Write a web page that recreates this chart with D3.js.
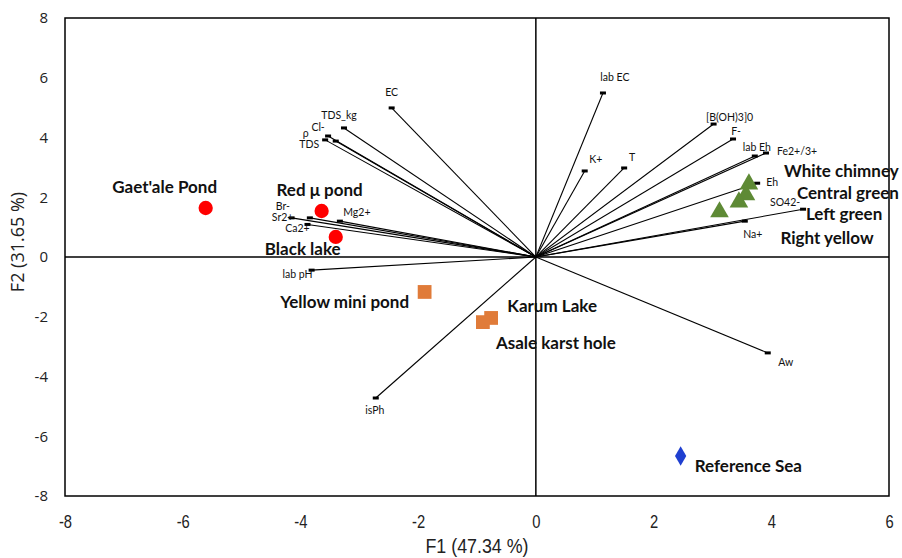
<!DOCTYPE html>
<html><head><meta charset="utf-8">
<script src="https://cdn.jsdelivr.net/npm/d3@7"></script>
<style>
html,body{margin:0;padding:0;background:#fff;}
svg{display:block;}
</style></head>
<body>
<svg id="chart" width="902" height="558"></svg>
<script>
// ---- data ----
const xTicks = [-8, -6, -4, -2, 0, 2, 4, 6];
const yTicks = [-8, -6, -4, -2, 0, 2, 4, 6, 8];
const xTitle = "F1 (47.34 %)";
const yTitle = "F2 (31.65 %)";

const varNames = ["EC","TDS_kg","Cl-","ρ","TDS","Br-","Sr2+","Mg2+","Ca2+","lab pH","isPh","Aw",
                  "lab EC","K+","T","[B(OH)3]0","F-","lab Eh","Fe2+/3+","Eh","SO42-","Na+"];
const varF1 = [-2.45,-3.26,-3.53,-3.40,-3.58,-3.84,-4.15,-3.33,-3.88,-3.81,-2.72,3.94,
               1.14,0.83,1.50,3.02,3.35,3.72,3.91,3.76,4.54,3.55];
const varF2 = [4.99,4.32,4.05,3.88,3.92,1.31,1.31,1.20,1.09,-0.44,-4.72,-3.21,
               5.49,2.88,2.98,4.45,3.95,3.38,3.48,2.47,1.60,1.20];

const obsNames = ["Gaet'ale Pond","Red μ pond","Black lake","Yellow mini pond","Karum Lake",
                  "Asale karst hole","Reference Sea","White chimney","Central green","Left green","Right yellow"];
const obsF1 = [-5.61,-3.64,-3.40,-1.89,-0.76,-0.90,2.46,3.62,3.57,3.45,3.12];
const obsF2 = [1.64,1.54,0.67,-1.17,-2.04,-2.18,-6.66,2.44,2.08,1.84,1.51];
const obsGroup = ["red","red","red","orange","orange","orange","blue","green","green","green","green"];

// ---- layout / style (not data) ----
const varLabelOffset = {
  "EC":[0,-16,"middle"],"TDS_kg":[-5,-13,"middle"],"Cl-":[-10,-9,"middle"],"ρ":[-30,-8,"middle"],
  "TDS":[-16,4,"middle"],"Br-":[-27,-12,"middle"],"Sr2+":[-9,-1,"middle"],"Mg2+":[17,-9,"middle"],
  "Ca2+":[-10,4,"middle"],"lab pH":[-14,4,"middle"],"isPh":[-1,12,"middle"],"Aw":[18,9,"middle"],
  "lab EC":[12,-16,"middle"],"K+":[11,-12,"middle"],"T":[8,-11,"middle"],"[B(OH)3]0":[16,-7,"middle"],
  "F-":[3,-8,"middle"],"lab Eh":[2,-9,"middle"],"Fe2+/3+":[11,-2,"start"],"Eh":[15,-1,"middle"],
  "SO42-":[-18,-7,"middle"],"Na+":[8,13,"middle"]
};
const obsLabelOffset = {
  "Gaet'ale Pond":[-41,-21,"middle"],"Red μ pond":[-2,-21,"middle"],"Black lake":[-33,12,"middle"],
  "Yellow mini pond":[-80,10,"middle"],"Karum Lake":[61,-12,"middle"],"Asale karst hole":[73,21,"middle"],
  "Reference Sea":[14,10,"start"],"White chimney":[35,-13,"start"],"Central green":[51,-2,"start"],
  "Left green":[67,12,"start"],"Right yellow":[61,26,"start"]
};
const colors = {red:"#FF0000", orange:"#E07B39", blue:"#1F3FD0", green:"#5E8A35"};

const svg = d3.select("#chart");
const x = d3.scaleLinear().domain([-8, 6]).range([65, 889]);
const y = d3.scaleLinear().domain([-8, 8]).range([496, 18]);

const smallFont = "Lato, 'Open Sans', sans-serif";
const narrowFont = "'Liberation Sans', Arial, sans-serif";

// axes
const xAxis = svg.append("g").attr("transform", "translate(0,496)")
  .call(d3.axisBottom(x).tickValues(xTicks).tickSize(0).tickPadding(19).tickFormat(d => String(d)));
xAxis.select(".domain").remove();
xAxis.selectAll("text").attr("font-family", narrowFont)
  .attr("font-size", 18).attr("fill","#222").attr("transform","scale(0.82,1)");

const yAxis = svg.append("g").attr("transform", "translate(65,0)")
  .call(d3.axisLeft(y).tickValues(yTicks).tickSize(0).tickPadding(17).tickFormat(d => String(d)));
yAxis.select(".domain").remove();
yAxis.selectAll("text").attr("font-family","'Open Sans', sans-serif").attr("font-size", 15).attr("fill","#222");

// frame
svg.append("rect").attr("x", x(-8)).attr("y", y(8)).attr("width", x(6)-x(-8)).attr("height", y(-8)-y(8))
  .attr("fill","none").attr("stroke","#000").attr("stroke-width",1.5);
// zero lines
svg.append("line").attr("x1", x(-8)).attr("x2", x(6)).attr("y1", y(0)).attr("y2", y(0)).attr("stroke","#000").attr("stroke-width",1.5);
svg.append("line").attr("x1", x(0)).attr("x2", x(0)).attr("y1", y(8)).attr("y2", y(-8)).attr("stroke","#000").attr("stroke-width",1.5);

// titles
svg.append("g").attr("transform","translate(477,553) scale(0.85,1)")
  .append("text").attr("text-anchor","middle")
  .attr("font-family", narrowFont)
  .attr("font-size",21).attr("fill","#222").text(xTitle);
svg.append("text").attr("transform","translate(24,242) rotate(-90)").attr("text-anchor","middle")
  .attr("font-family","'Open Sans', sans-serif").attr("font-size",18).attr("fill","#222").text(yTitle);

// variable vectors
const vars = varNames.map((n,i)=>({name:n, f1:varF1[i], f2:varF2[i]}));
const vg = svg.append("g");
vg.selectAll("line.v").data(vars).join("line").attr("class","v")
  .attr("x1", x(0)).attr("y1", y(0)).attr("x2", d=>x(d.f1)).attr("y2", d=>y(d.f2))
  .attr("stroke","#000").attr("stroke-width",1.1);
vg.selectAll("rect.m").data(vars).join("rect").attr("class","m")
  .attr("x", d=>x(d.f1)-3).attr("y", d=>y(d.f2)-1.5).attr("width",6).attr("height",3).attr("fill","#000");
vg.selectAll("text.vl").data(vars).join("text").attr("class","vl")
  .attr("x", d=>x(d.f1)+varLabelOffset[d.name][0]).attr("y", d=>y(d.f2)+varLabelOffset[d.name][1])
  .attr("dy","0.35em").attr("text-anchor", d=>varLabelOffset[d.name][2])
  .attr("font-family", smallFont).attr("font-size", 10.5).attr("fill","#111").text(d=>d.name);

// observations
const obs = obsNames.map((n,i)=>({name:n, f1:obsF1[i], f2:obsF2[i], g:obsGroup[i]}));
const og = svg.append("g");
const shape = {red:d3.symbolCircle, orange:d3.symbolSquare, blue:d3.symbolDiamond, green:d3.symbolTriangle};
const size = {red:160, orange:190, blue:110, green:150};
og.selectAll("path").data(obs).join("path")
  .attr("transform", d=>`translate(${x(d.f1)},${y(d.f2)})`)
  .attr("d", d=>d3.symbol().type(shape[d.g]).size(size[d.g])())
  .attr("fill", d=>colors[d.g]);
og.selectAll("text").data(obs).join("text")
  .attr("x", d=>x(d.f1)+obsLabelOffset[d.name][0]).attr("y", d=>y(d.f2)+obsLabelOffset[d.name][1])
  .attr("dy","0.35em").attr("text-anchor", d=>obsLabelOffset[d.name][2])
  .attr("font-family", "Lato, 'Open Sans', sans-serif").attr("font-weight","bold")
  .attr("font-size", 17).attr("fill","#111").text(d=>d.name);
</script>
</body></html>
